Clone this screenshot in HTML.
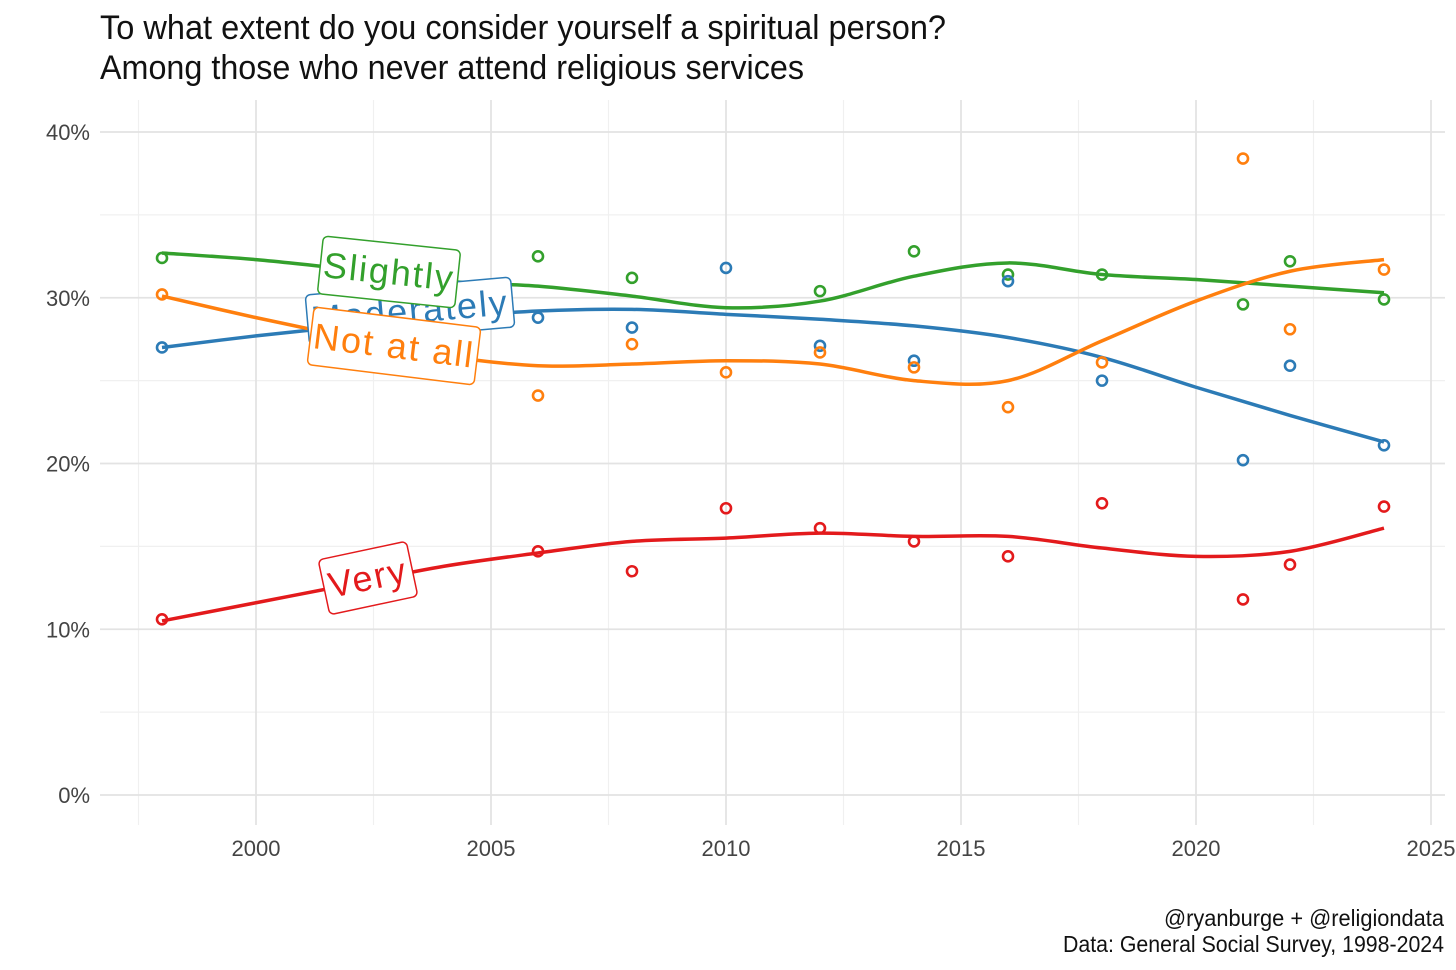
<!DOCTYPE html>
<html><head><meta charset="utf-8">
<style>
html,body{margin:0;padding:0;background:#fff;}
svg{display:block;font-family:"Liberation Sans Narrow","Liberation Sans",sans-serif;}
</style></head>
<body>
<svg id="chart" width="1456" height="970" viewBox="0 0 1456 970" xmlns="http://www.w3.org/2000/svg">
<rect width="1456" height="970" fill="#fff"/>
<text x="100" y="39" font-size="34" fill="#111" textLength="846" lengthAdjust="spacingAndGlyphs">To what extent do you consider yourself a spiritual person?</text>
<text x="100" y="79" font-size="34" fill="#111" textLength="704" lengthAdjust="spacingAndGlyphs">Among those who never attend religious services</text>
<g id="grid"></g><g id="axes"></g><g id="series"></g><g id="labels"></g>
<text x="1444" y="926" font-size="23" fill="#111" text-anchor="end" textLength="280" lengthAdjust="spacingAndGlyphs">@ryanburge + @religiondata</text>
<text x="1444" y="952" font-size="23" fill="#111" text-anchor="end" textLength="381" lengthAdjust="spacingAndGlyphs">Data: General Social Survey, 1998-2024</text>
</svg>
<script>
const years = [1998,2006,2008,2010,2012,2014,2016,2018,2021,2022,2024];
const slightlyPts = [32.4,32.5,31.2,null,30.4,32.8,31.4,31.4,29.6,32.2,29.9];
const moderatelyPts = [27.0,28.8,28.2,31.8,27.1,26.2,31.0,25.0,20.2,25.9,21.1];
const notAtAllPts = [30.2,24.1,27.2,25.5,26.7,25.8,23.4,26.1,38.4,28.1,31.7];
const veryPts = [10.6,14.7,13.5,17.3,16.1,15.3,14.4,17.6,11.8,13.9,17.4];
const smoothYears = [1998,2000,2002,2004,2006,2008,2010,2012,2014,2016,2018,2020,2022,2024];
const slightlyFit = [32.7,32.3,31.7,31.0,30.7,30.1,29.4,29.8,31.3,32.1,31.4,31.1,30.7,30.3];
const moderatelyFit = [27.0,27.7,28.3,28.8,29.2,29.3,29.0,28.7,28.3,27.6,26.4,24.6,22.9,21.3];
const notAtAllFit = [30.1,28.8,27.6,26.5,25.9,26.0,26.2,26.0,25.0,25.0,27.4,29.8,31.6,32.3];
const veryFit = [10.5,11.6,12.7,13.8,14.6,15.3,15.5,15.8,15.6,15.6,14.9,14.4,14.7,16.1];
const yTicks = [0,10,20,30,40];
const xTicks = [2000,2005,2010,2015,2020,2025];

const NS="http://www.w3.org/2000/svg";
const xs = y => 256 + (y-2000)*47;
const ys = v => 795 - v*16.575;
function mk(tag, attrs, parent){const e=document.createElementNS(NS,tag);for(const k in attrs)e.setAttribute(k,attrs[k]);parent.appendChild(e);return e;}
const grid=document.getElementById('grid'), axes=document.getElementById('axes'), series=document.getElementById('series'), labels=document.getElementById('labels');

for(let v=5; v<=45; v+=10){ if(ys(v)<100) continue;
  const l=mk('line',{x1:100,x2:1445,y1:ys(v),y2:ys(v),stroke:'#f0f0f0','stroke-width':1.2},grid);
  
  }
for(let yr=1997.5; yr<=2025; yr+=5){
  const l=mk('line',{x1:xs(yr),x2:xs(yr),y1:100,y2:825,stroke:'#f0f0f0','stroke-width':1.2},grid);
  
  }
yTicks.forEach(v=>{
  const l=mk('line',{x1:100,x2:1445,y1:ys(v),y2:ys(v),stroke:'#e3e3e3','stroke-width':1.8},grid);
  
  
  const t=mk('text',{x:90,y:ys(v)+8,'font-size':22,fill:'#444','text-anchor':'end'},axes);
  t.textContent=v+'%';
  
  
});
xTicks.forEach(yr=>{
  const l=mk('line',{x1:xs(yr),x2:xs(yr),y1:100,y2:825,stroke:'#e3e3e3','stroke-width':1.8},grid);
  
  
  const t=mk('text',{x:xs(yr),y:856,'font-size':22,fill:'#444','text-anchor':'middle'},axes);
  t.textContent=yr;
  
  
});

function smoothPath(xv,yv){
  const p=xv.map((x,i)=>[xs(x),ys(yv[i])]);
  let d='M'+p[0][0]+','+p[0][1];
  for(let i=0;i<p.length-1;i++){
    const p0=p[i-1]||p[i],p1=p[i],p2=p[i+1],p3=p[i+2]||p2;
    const c1=[p1[0]+(p2[0]-p0[0])/6,p1[1]+(p2[1]-p0[1])/6];
    const c2=[p2[0]-(p3[0]-p1[0])/6,p2[1]-(p3[1]-p1[1])/6];
    d+=' C'+c1+' '+c2+' '+p2;
  }
  return d;
}
const S=[
 {name:'slightly',color:'#33a02c',pts:slightlyPts,fit:slightlyFit},
 {name:'moderately',color:'#2c7bb6',pts:moderatelyPts,fit:moderatelyFit},
 {name:'not-at-all',color:'#ff7f0e',pts:notAtAllPts,fit:notAtAllFit},
 {name:'very',color:'#e31a1c',pts:veryPts,fit:veryFit}];
S.forEach(s=>{
  const p=mk('path',{d:smoothPath(smoothYears,s.fit),fill:'none',stroke:s.color,'stroke-width':3.5},series);
  
  
});
S.forEach(s=>{
  s.pts.forEach((v,i)=>{
    if(v===null) return;
    const c=mk('circle',{cx:xs(years[i]),cy:ys(v),r:5,fill:'none',stroke:s.color,'stroke-width':2.6},series);
    
    
  });
});
const L=[
 {name:'moderately',text:'Moderately',color:'#2c7bb6',cx:410,cy:311,w:206,h:50,rot:-5},
 {name:'slightly',text:'Slightly',color:'#33a02c',cx:389,cy:272,w:138,h:58,rot:6},
 {name:'not-at-all',text:'Not at all',color:'#ff7f0e',cx:394,cy:346,w:168,h:58,rot:7},
 {name:'very',text:'Very',color:'#e31a1c',cx:368,cy:578,w:90,h:56,rot:-12}];
L.forEach(l=>{
  const g=mk('g',{transform:`translate(${l.cx},${l.cy}) rotate(${l.rot})`},labels);
  
  
  mk('rect',{x:-l.w/2,y:-l.h/2,width:l.w,height:l.h,rx:5,fill:'#fff',stroke:l.color,'stroke-width':1.5},g);
  const t=mk('text',{x:0,y:12,'font-size':36,fill:l.color,'text-anchor':'middle','letter-spacing':2},g);
  t.textContent=l.text;
});
</script>
</body></html>
